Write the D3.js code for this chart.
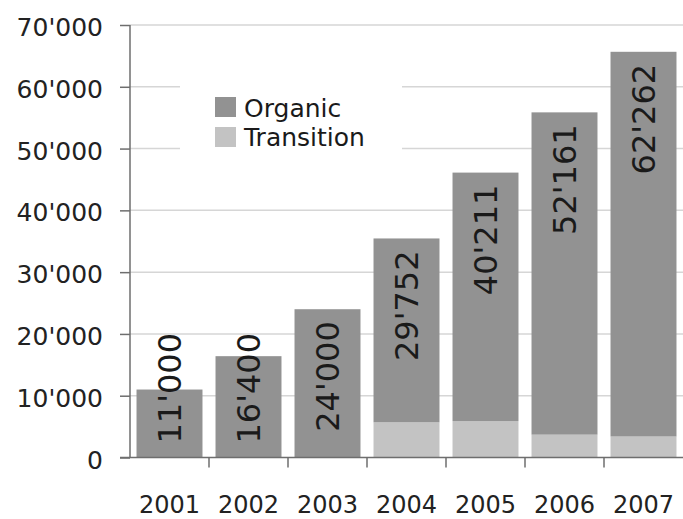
<!DOCTYPE html>
<html>
<head>
<meta charset="utf-8">
<script src="https://cdn.jsdelivr.net/npm/d3@7"></script>
<style>
  html, body { margin: 0; padding: 0; background: #fff; }
  svg { display: block; font-family: "DejaVu Sans", sans-serif; }
</style>
</head>
<body>
<svg id="chart" width="683" height="519"></svg>
<script>
const years = ["2001", "2002", "2003", "2004", "2005", "2006", "2007"];
const organic = [11000, 16400, 24000, 29752, 40211, 52161, 62262];
const transition = [0, 0, 0, 5700, 5900, 3700, 3400];
const yTicks = [0, 10000, 20000, 30000, 40000, 50000, 60000, 70000];
const seriesNames = ["Organic", "Transition"];

const colors = { Organic: "#929292", Transition: "#c3c3c3" };

const locale = d3.formatLocale({ decimal: ".", thousands: "'", grouping: [3], currency: ["", ""] });
const fmt = locale.format(",");

const svg = d3.select("#chart");
const plotL = 130, plotR = 683, plotT = 25, plotB = 457.5;

const x = d3.scaleBand().domain(years).range([plotL, plotR]).paddingInner(0.165).paddingOuter(0.0825);
const y = d3.scaleLinear().domain([0, 70000]).range([plotB, plotT]);

const rows = years.map((yr, i) => ({ year: yr, Transition: transition[i], Organic: organic[i] }));
const stacked = d3.stack().keys(["Transition", "Organic"])(rows);

// gridlines
svg.append("g").selectAll("line").data(yTicks.filter(d => d > 0)).join("line")
  .attr("x1", plotL).attr("x2", plotR)
  .attr("y1", d => y(d)).attr("y2", d => y(d))
  .attr("stroke", "#d6d6d6").attr("stroke-width", 1.5);

// legend background (hides gridlines behind)
svg.append("rect").attr("x", 180).attr("y", 62).attr("width", 222).attr("height", 108).attr("fill", "#fff");

// bars
svg.append("g").selectAll("g").data(stacked).join("g")
  .attr("fill", d => colors[d.key])
  .selectAll("rect").data(d => d).join("rect")
  .attr("x", d => x(d.data.year))
  .attr("width", x.bandwidth())
  .attr("y", d => y(d[1]))
  .attr("height", d => y(d[0]) - y(d[1]));

// bar labels (rotated)
const labelSize = 32;
const labelG = svg.append("g");
rows.forEach((r) => {
  const total = r.Organic + r.Transition;
  const cx = x(r.year) + x.bandwidth() / 2 + labelSize * 0.36;
  const topY = y(total) + 12;
  const t = labelG.append("text")
    .attr("font-size", labelSize)
    .attr("fill", "#1a1a1a")
    .text(fmt(r.Organic));
  const len = t.node().getComputedTextLength();
  let startY = topY + len;
  if (startY > plotB - 14) startY = plotB - 14;
  t.attr("transform", `translate(${cx},${startY}) rotate(-90)`);
});

// y axis
const yAxis = d3.axisLeft(y).tickValues(yTicks).tickFormat(fmt).tickSize(10).tickPadding(17);
const yg = svg.append("g").attr("transform", `translate(${plotL},0)`).call(yAxis);
yg.select(".domain").attr("stroke", "#6e6e6e").attr("stroke-width", 1.5).attr("d", `M0,${plotT}V${plotB}`);
yg.selectAll(".tick line").attr("stroke", "#6e6e6e").attr("stroke-width", 1.5);
yg.selectAll(".tick text").attr("font-size", 25).attr("fill", "#222").attr("font-family", "DejaVu Sans").attr("dy", "0.42em");

// x axis
const xAxis = d3.axisBottom(x).tickSize(0).tickPadding(38);
const xg = svg.append("g").attr("transform", `translate(0,${plotB})`).call(xAxis);
xg.select(".domain").attr("stroke", "#6e6e6e").attr("stroke-width", 1.5).attr("d", `M${plotL - 10},0H${plotR}`);
xg.selectAll(".tick text").attr("font-size", 24).attr("fill", "#222").attr("font-family", "DejaVu Sans");
const half = (x.step() - x.bandwidth()) / 2;
xg.selectAll("line.sep").data(years.slice(1)).join("line").attr("class", "sep")
  .attr("x1", d => x(d) - half).attr("x2", d => x(d) - half)
  .attr("y1", 0).attr("y2", 10)
  .attr("stroke", "#6e6e6e").attr("stroke-width", 1.5);

// legend
const lg = svg.append("g");
seriesNames.forEach((name, i) => {
  lg.append("rect").attr("x", 215).attr("y", 97 + i * 30).attr("width", 21).attr("height", 20).attr("fill", colors[name]);
  lg.append("text").attr("x", 244).attr("y", 116.5 + i * 29).attr("font-size", 25).attr("fill", "#1a1a1a").text(name);
});
</script>
</body>
</html>
